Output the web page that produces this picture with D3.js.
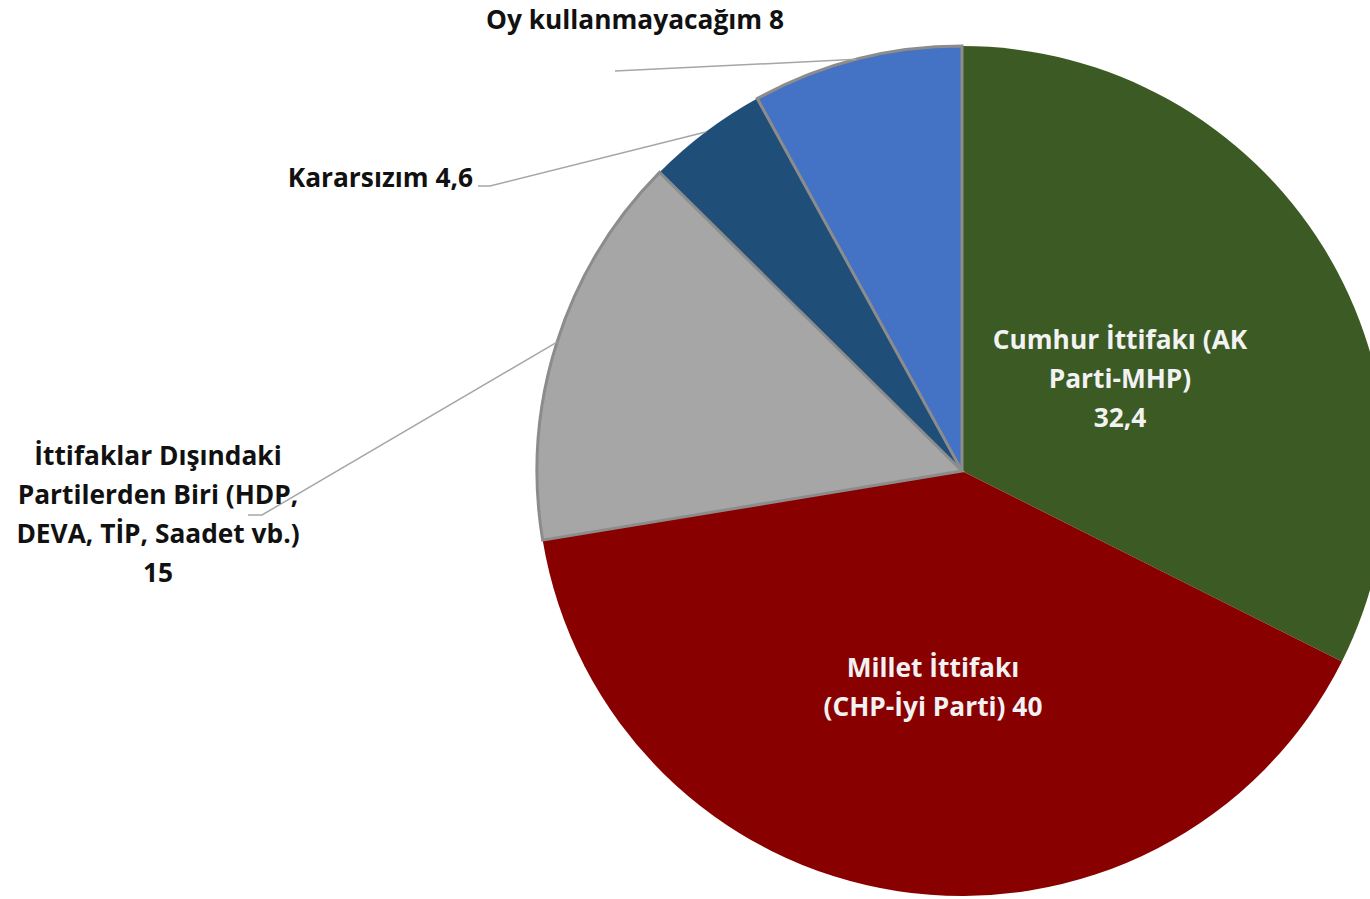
<!DOCTYPE html>
<html>
<head>
<meta charset="utf-8">
<script src="https://cdn.jsdelivr.net/npm/d3@7"></script>
<style>
  html, body { margin: 0; padding: 0; background: #fff; }
  svg { display: block; }
  text { font-family: "Open Sans", "Noto Sans", sans-serif; font-weight: 700; }
</style>
</head>
<body>
<svg id="chart" width="1370" height="899"></svg>
<script>
// ---- data ----
const categories = [
  ["Cumhur İttifakı (AK", "Parti-MHP)"],
  ["Millet İttifakı", "(CHP-İyi Parti)"],
  ["İttifaklar Dışındaki", "Partilerden Biri (HDP,", "DEVA, TİP, Saadet vb.)"],
  ["Kararsızım"],
  ["Oy kullanmayacağım"]
];
const values = [32.4, 40, 15, 4.6, 8];
const valueLabels = ["32,4", "40", "15", "4,6", "8"];
const colors = ["#3B5A24", "#880000", "#A6A6A6", "#1F4E79", "#4472C4"];

// ---- layout ----
const W = 1370, H = 899;
const cx = 962, cy = 471, R = 425;
const fontSize = 26.3, lineH = 39;
const outlined = [false, false, true, false, true];
const labelPos = [
  { x: 1120, y: 340, anchor: "middle", inside: true, valueOwnLine: true },
  { x: 933, y: 668, anchor: "middle", inside: true, valueOwnLine: false },
  { x: 158, y: 456, anchor: "middle", inside: false, valueOwnLine: true, leader: [[262, 515], [248, 515]] },
  { x: 473, y: 178, anchor: "end", inside: false, valueOwnLine: false, leader: [[490, 186], [478, 186]] },
  { x: 635, y: 20, anchor: "middle", inside: false, valueOwnLine: false, leader: [[615, 71]] }
];

const svg = d3.select("#chart");
const g = svg.append("g").attr("transform", `translate(${cx},${cy})`);

const pie = d3.pie().sort(null).value(d => d).startAngle(0).endAngle(2 * Math.PI);
const arcs = pie(values);
const arc = d3.arc().innerRadius(0).outerRadius(R);
const edgeArc = d3.arc().innerRadius(R).outerRadius(R);

const order = d3.range(arcs.length).sort((a, b) => (outlined[a] ? 1 : 0) - (outlined[b] ? 1 : 0));
g.selectAll("path.slice")
  .data(order)
  .join("path")
  .attr("class", "slice")
  .attr("d", i => arc(arcs[i]))
  .attr("fill", i => colors[i])
  .attr("stroke", i => outlined[i] ? "#8C8C8C" : "none")
  .attr("stroke-width", 3)
  .attr("stroke-linejoin", "miter");

arcs.forEach((a, i) => {
  const lp = labelPos[i];
  if (!lp.leader) return;
  const [ex, ey] = edgeArc.centroid(a);
  const pts = [[cx + ex, cy + ey]].concat(lp.leader);
  svg.append("path")
    .attr("d", d3.line()(pts))
    .attr("fill", "none")
    .attr("stroke", "#A6A6A6")
    .attr("stroke-width", 1.5);
});

arcs.forEach((a, i) => {
  const lp = labelPos[i];
  const lines = categories[i].slice();
  if (lp.valueOwnLine) lines.push(valueLabels[i]);
  else lines[lines.length - 1] = lines[lines.length - 1] + " " + valueLabels[i];
  const t = svg.append("text")
    .attr("text-anchor", lp.anchor)
    .attr("fill", lp.inside ? "#F2F2F2" : "#111111")
    .attr("font-size", fontSize);
  lines.forEach((ln, k) => {
    t.append("tspan")
      .attr("x", lp.x)
      .attr("y", lp.y + k * lineH)
      .attr("dy", "0.36em")
      .text(ln);
  });
});
</script>
</body>
</html>
